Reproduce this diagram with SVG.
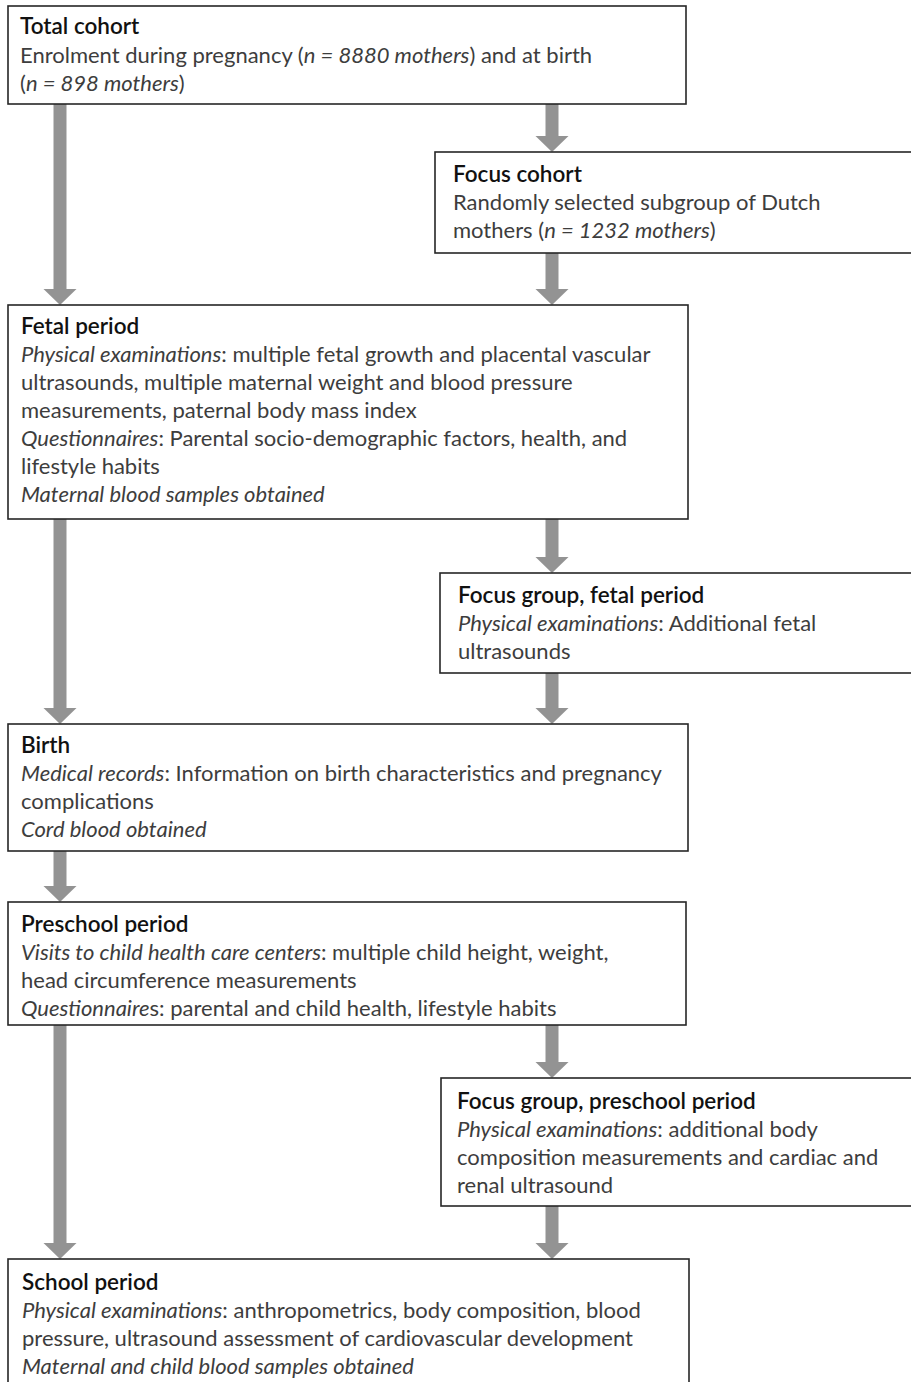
<svg xmlns="http://www.w3.org/2000/svg" width="911" height="1382" viewBox="0 0 911 1382">
<style>
.box{fill:#fff;stroke:#262626;stroke-width:1.6}
.t{font-family:Lato,"Liberation Sans",sans-serif;font-size:22.5px;fill:#111;font-weight:600}
.b{font-family:Lato,"Liberation Sans",sans-serif;font-size:22px;fill:#3d3d3d}
.i{font-style:italic}
.arr{fill:#939393}
</style>
<rect width="911" height="1382" fill="#fff"/>
<g id="connectors">
<polygon class="arr" points="53.5,104 66.5,104 66.5,289 76.5,289 60,305 43.5,289 53.5,289"/>
<polygon class="arr" points="53.5,519 66.5,519 66.5,708 76.5,708 60,724 43.5,708 53.5,708"/>
<polygon class="arr" points="53.5,851 66.5,851 66.5,886 76.5,886 60,902 43.5,886 53.5,886"/>
<polygon class="arr" points="53.5,1025 66.5,1025 66.5,1243 76.5,1243 60,1259 43.5,1243 53.5,1243"/>
<polygon class="arr" points="545.5,104 558.5,104 558.5,136 568.5,136 552,152 535.5,136 545.5,136"/>
<polygon class="arr" points="545.5,253 558.5,253 558.5,289 568.5,289 552,305 535.5,289 545.5,289"/>
<polygon class="arr" points="545.5,519 558.5,519 558.5,557 568.5,557 552,573 535.5,557 545.5,557"/>
<polygon class="arr" points="545.5,673 558.5,673 558.5,708 568.5,708 552,724 535.5,708 545.5,708"/>
<polygon class="arr" points="545.5,1025 558.5,1025 558.5,1062 568.5,1062 552,1078 535.5,1062 545.5,1062"/>
<polygon class="arr" points="545.5,1206 558.5,1206 558.5,1243 568.5,1243 552,1259 535.5,1243 545.5,1243"/>
</g>
<g id="total-cohort">
<rect class="box" x="8" y="6" width="678" height="98"/>
<text class="t" x="20" y="34">Total cohort</text>
<text class="b" x="20" y="63">Enrolment during pregnancy (<tspan class="i">n = 8880 mothers</tspan>) and at birth</text>
<text class="b" x="20" y="91">(<tspan class="i">n = 898 mothers</tspan>)</text>
</g>
<g id="focus-cohort">
<rect class="box" x="435" y="152" width="480" height="101"/>
<text class="t" x="453" y="182">Focus cohort</text>
<text class="b" x="453" y="210">Randomly selected subgroup of Dutch</text>
<text class="b" x="453" y="238">mothers (<tspan class="i">n = 1232 mothers</tspan>)</text>
</g>
<g id="fetal-period">
<rect class="box" x="8" y="305" width="680" height="214"/>
<text class="t" x="21" y="334">Fetal period</text>
<text class="b" x="21" y="362"><tspan class="i">Physical examinations</tspan>: multiple fetal growth and placental vascular</text>
<text class="b" x="21" y="390">ultrasounds, multiple maternal weight and blood pressure</text>
<text class="b" x="21" y="418">measurements, paternal body mass index</text>
<text class="b" x="21" y="446"><tspan class="i">Questionnaires</tspan>: Parental socio-demographic factors, health, and</text>
<text class="b" x="21" y="474">lifestyle habits</text>
<text class="b i" x="21" y="502">Maternal blood samples obtained</text>
</g>
<g id="focus-fetal">
<rect class="box" x="440" y="573" width="475" height="100"/>
<text class="t" x="458" y="603">Focus group, fetal period</text>
<text class="b" x="458" y="631"><tspan class="i">Physical examinations</tspan>: Additional fetal</text>
<text class="b" x="458" y="659">ultrasounds</text>
</g>
<g id="birth">
<rect class="box" x="8" y="724" width="680" height="127"/>
<text class="t" x="21" y="753">Birth</text>
<text class="b" x="21" y="781"><tspan class="i">Medical records</tspan>: Information on birth characteristics and pregnancy</text>
<text class="b" x="21" y="809">complications</text>
<text class="b i" x="21" y="837">Cord blood obtained</text>
</g>
<g id="preschool">
<rect class="box" x="8" y="902" width="678" height="123"/>
<text class="t" x="21" y="932">Preschool period</text>
<text class="b" x="21" y="960"><tspan class="i">Visits to child health care centers</tspan>: multiple child height, weight,</text>
<text class="b" x="21" y="988">head circumference measurements</text>
<text class="b" x="21" y="1016"><tspan class="i">Questionnaire</tspan>s: parental and child health, lifestyle habits</text>
</g>
<g id="focus-preschool">
<rect class="box" x="441" y="1078" width="474" height="128"/>
<text class="t" x="457" y="1109">Focus group, preschool period</text>
<text class="b" x="457" y="1137"><tspan class="i">Physical examinations</tspan>: additional body</text>
<text class="b" x="457" y="1165">composition measurements and cardiac and</text>
<text class="b" x="457" y="1193">renal ultrasound</text>
</g>
<g id="school">
<rect class="box" x="8" y="1259" width="681" height="140"/>
<text class="t" x="22" y="1290">School period</text>
<text class="b" x="22" y="1318"><tspan class="i">Physical examinations</tspan>: anthropometrics, body composition, blood</text>
<text class="b" x="22" y="1346">pressure, ultrasound assessment of cardiovascular development</text>
<text class="b i" x="22" y="1374">Maternal and child blood samples obtained</text>
</g>
</svg>
